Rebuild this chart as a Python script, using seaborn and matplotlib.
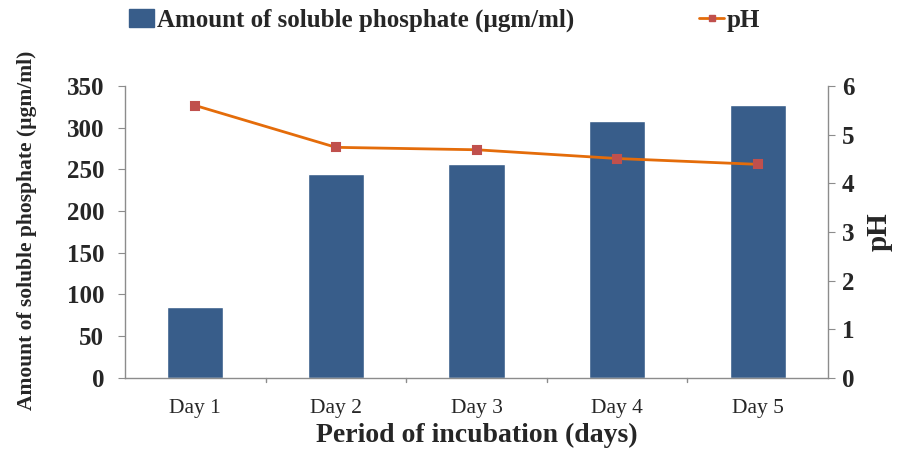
import pandas as pd
import seaborn as sns
import matplotlib.pyplot as plt
from matplotlib.lines import Line2D
from matplotlib.patches import Patch

# values
days = ["Day 1", "Day 2", "Day 3", "Day 4", "Day 5"]
phosphate = [85, 244, 257, 308, 327]
ph = [5.6, 4.74, 4.69, 4.51, 4.39]

sns.set_style("white")
plt.rcParams['font.family'] = ['Liberation Serif', 'DejaVu Serif']

df = pd.DataFrame({'day': days, 'phosphate': phosphate, 'ph': ph})

bar_color = '#385D8A'
line_color = '#E46C0A'
marker_color = '#C0504D'
spine_color = '#8C8C8C'

fig = plt.figure(figsize=(9.06, 4.53), dpi=100)
ax = fig.add_axes([0.138, 0.166, 0.776, 0.644])
sns.barplot(data=df, x='day', y='phosphate', color=bar_color, width=0.4,
            saturation=1, ax=ax)
ax.set_ylim(0, 350)
ax.set_xlim(-0.5, 4.5)
ax.set_yticks(range(0, 351, 50))

ax2 = ax.twinx()
sns.pointplot(data=df, x='day', y='ph', color=line_color, markers='s',
              markersize=6, linewidth=2, ax=ax2)
for ln in ax2.lines:
    ln.set_markerfacecolor(marker_color)
    ln.set_markeredgecolor(marker_color)
ax2.set_ylim(0, 6)
ax2.set_xlim(-0.5, 4.5)
ax2.set_yticks(range(0, 7))

# category boundary ticks on x axis
ax.set_xticks(range(5))
ax.set_xticklabels(days, fontsize=15.5)
ax.tick_params(axis='x', length=0, pad=15)
for b in [0.5, 1.5, 2.5, 3.5]:
    ax.plot([b, b], [0, -0.015], transform=ax.get_xaxis_transform(),
            color=spine_color, lw=1, clip_on=False)

for a in (ax, ax2):
    for s in a.spines.values():
        s.set_visible(False)
ax.spines['left'].set_visible(True)
ax.spines['bottom'].set_visible(True)
ax2.spines['right'].set_visible(True)
for s in (ax.spines['left'], ax.spines['bottom'], ax2.spines['right']):
    s.set_color(spine_color)
    s.set_linewidth(1)

ax.tick_params(axis='y', direction='out', length=5, color=spine_color,
               labelsize=18, left=True, pad=10)
ax2.tick_params(axis='y', direction='out', length=5, color=spine_color,
                labelsize=18, right=True, pad=5)
for t in ax.get_yticklabels() + ax2.get_yticklabels():
    t.set_fontweight('bold')

ax.set_xlabel("Period of incubation (days)", fontsize=20, fontweight='bold')
ax.xaxis.set_label_coords(0.5, -0.155)
ax.set_ylabel("Amount of soluble phosphate (µgm/ml)", fontsize=15.5,
              fontweight='bold')
ax.yaxis.set_label_coords(-0.125, 0.505)
ax2.set_ylabel("pH", fontsize=21, fontweight='bold', labelpad=8)

handles = [Patch(facecolor=bar_color, edgecolor=bar_color),
           Line2D([0], [0], color=line_color, lw=2, marker='s', markersize=5,
                  markerfacecolor=marker_color, markeredgecolor=marker_color)]
fig.legend(handles, ["Amount of soluble phosphate (µgm/ml)", "pH"],
           loc='upper left', bbox_to_anchor=(0.118, 1.03), ncol=2, frameon=False,
           prop={'size': 18, 'weight': 'bold'}, columnspacing=5.0,
           handlelength=1.0, handletextpad=0.1)

plt.savefig('out.png', dpi=100)
plt.close()
